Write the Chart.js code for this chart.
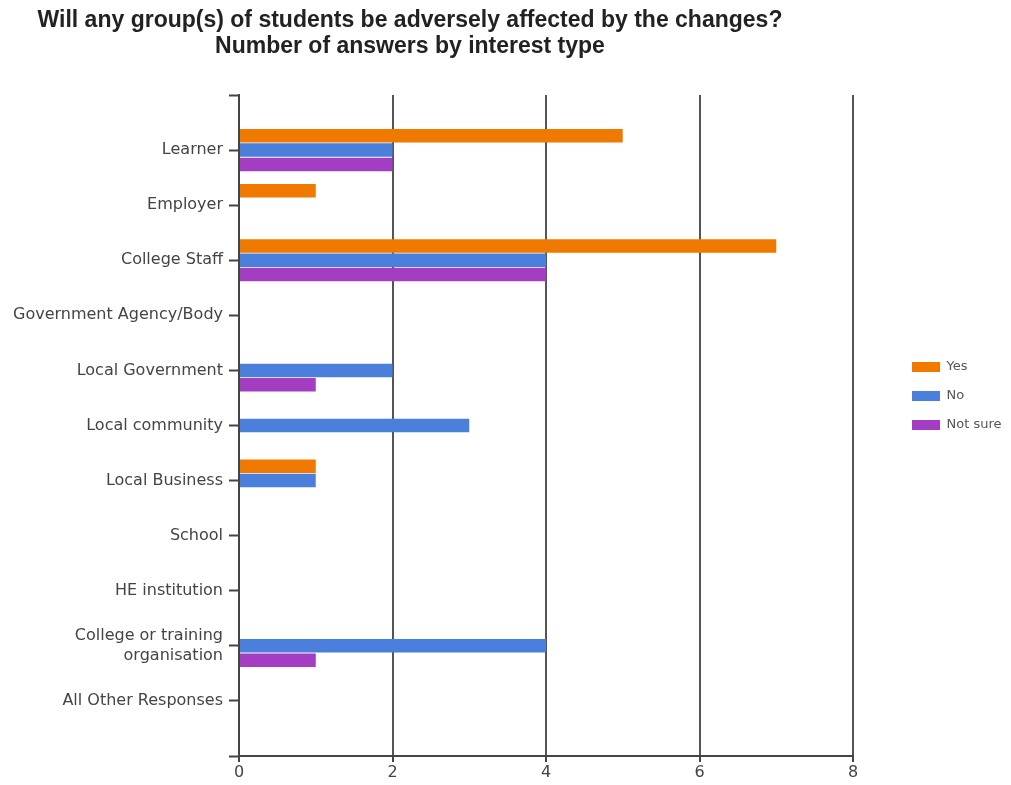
<!DOCTYPE html>
<html>
<head>
<meta charset="utf-8">
<title>Respuestas por tipo de interés</title>
<script src="https://cdn.jsdelivr.net/npm/chart.js@4/dist/chart.umd.min.js"></script>
<style>
  html, body { margin: 0; padding: 0; background: #fff; }
  #wrap { position: relative; width: 1011px; height: 785px; }
  #titulo {
    position: absolute; left: 0; top: 6px; width: 820px;
    text-align: center; font: bold 23px "Liberation Sans", Arial, sans-serif;
    line-height: 26px; color: #222;
  }
  canvas { position: absolute; left: 0; top: 0; }
</style>
</head>
<body>
<div id="wrap">
  <canvas id="chart-respuestas" width="1011" height="785"></canvas>
  <div id="titulo">Will any group(s) of students be adversely affected by the changes?<br>Number of answers by interest type</div>
</div>
<script>
'use strict';

// Datos
const categorias = [
  'Learner',
  'Employer',
  'College Staff',
  'Government Agency/Body',
  'Local Government',
  'Local community',
  'Local Business',
  'School',
  'HE institution',
  ['College or training', 'organisation'],
  'All Other Responses'
];
const valoresYes     = [5, 1, 7, 0, 0, 0, 1, 0, 0, 0, 0];
const valoresNo      = [2, 0, 4, 0, 2, 3, 1, 0, 0, 4, 0];
const valoresNotSure = [2, 0, 4, 0, 1, 0, 0, 0, 0, 1, 0];
const ticksX = [0, 2, 4, 6, 8];

const colores = { yes: '#f07a00', no: '#4a7fdb', notSure: '#a33dc2' };

// Un hueco vacío arriba y abajo para que el eje tenga margen como el original
function conMargen(arr) {
  return [null].concat(arr, [null]);
}

const fuenteEje = { family: 'DejaVu Sans, Liberation Sans, Arial, sans-serif', size: 16, lineHeight: 1.25 };

// Recoloca la leyenda: más a la derecha y un poco por encima del centro
const moverLeyenda = {
  id: 'moverLeyenda',
  afterLayout(chart) {
    const leyenda = chart.legend;
    if (!leyenda) return;
    leyenda.top -= 44;
    leyenda.bottom -= 44;
    leyenda.left += 43;
    leyenda.right += 43;
  }
};

const ctx = document.getElementById('chart-respuestas').getContext('2d');
new Chart(ctx, {
  type: 'bar',
  data: {
    labels: conMargen(categorias).map(function (c) { return c === null ? '' : c; }),
    datasets: [
      { label: 'Yes', data: conMargen(valoresYes), backgroundColor: colores.yes },
      { label: 'No', data: conMargen(valoresNo), backgroundColor: colores.no },
      { label: 'Not sure', data: conMargen(valoresNotSure), backgroundColor: colores.notSure }
    ]
  },
  options: {
    indexAxis: 'y',
    responsive: false,
    animation: false,
    devicePixelRatio: 1,
    categoryPercentage: 0.78,
    barPercentage: 0.94,
    layout: { padding: { top: 95, left: 0, right: 0, bottom: 0 } },
    scales: {
      x: {
        min: ticksX[0],
        max: ticksX[ticksX.length - 1],
        afterBuildTicks: function (scale) {
          scale.ticks = ticksX.map(function (v) { return { value: v }; });
        },
        afterFit: function (scale) {
          scale.height = 29;
          scale.paddingRight = 158;
        },
        border: { display: true, color: '#444', width: 2 },
        grid: { color: '#555', lineWidth: 2, tickLength: 6, tickColor: '#444' },
        ticks: { color: '#444', font: fuenteEje, padding: 1, maxRotation: 0 }
      },
      y: {
        offset: false,
        afterFit: function (scale) {
          scale.width = 239;
        },
        border: { display: true, color: '#444', width: 2 },
        grid: { offset: false, drawOnChartArea: false, tickLength: 10, tickColor: '#444', tickWidth: 2 },
        ticks: { autoSkip: false, color: '#444', font: fuenteEje, padding: 6 }
      }
    },
    plugins: {
      legend: {
        position: 'right',
        labels: {
          boxWidth: 28,
          boxHeight: 10,
          padding: 16,
          color: '#555',
          font: { family: 'DejaVu Sans, Liberation Sans, Arial, sans-serif', size: 13 }
        }
      },
      tooltip: { enabled: false }
    }
  },
  plugins: [moverLeyenda]
});
</script>
</body>
</html>
